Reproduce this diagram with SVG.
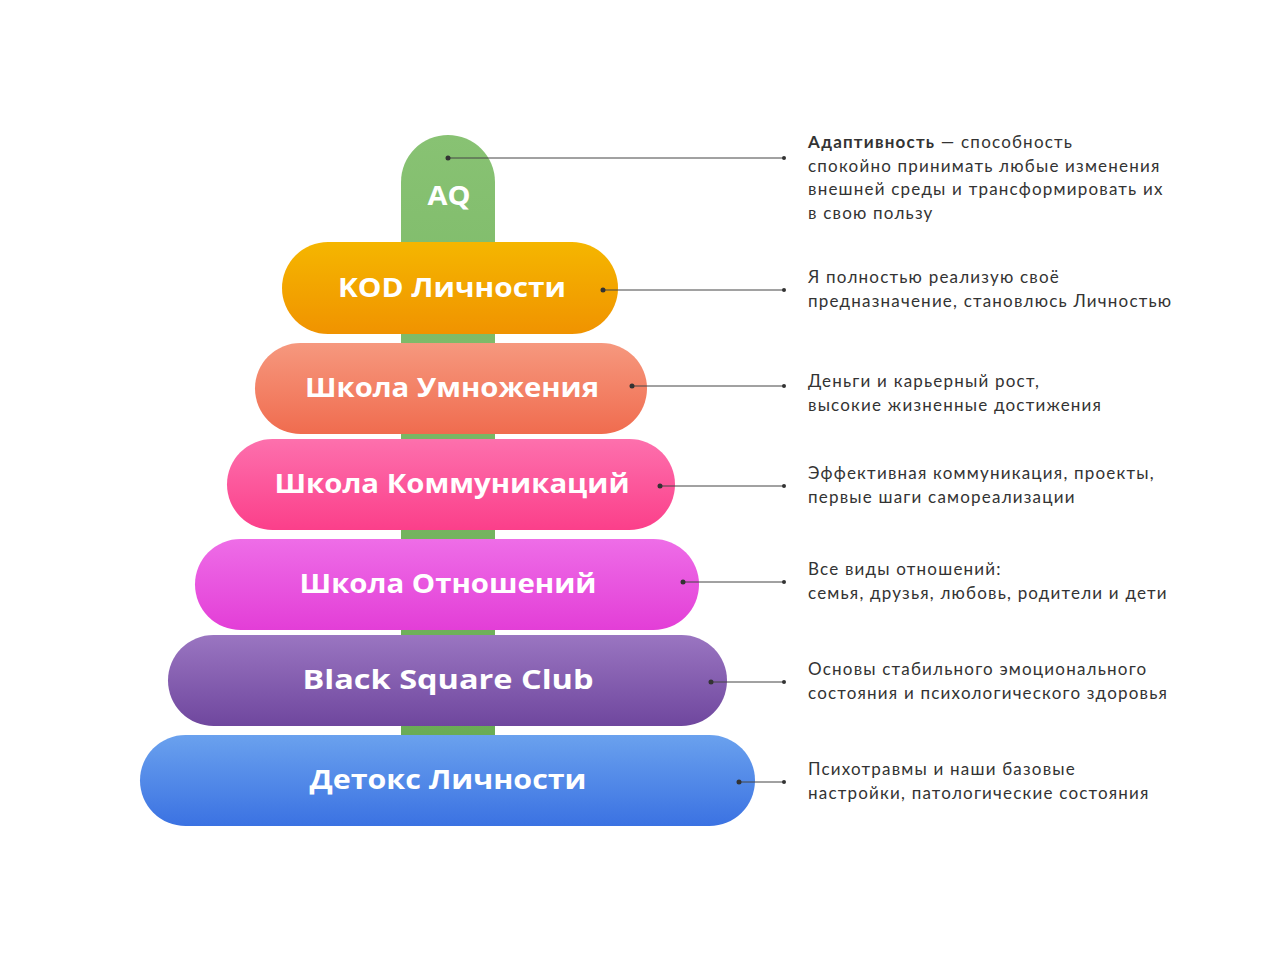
<svg xmlns="http://www.w3.org/2000/svg" width="1280" height="960" viewBox="0 0 1280 960">
  <defs>
    <linearGradient id="gGreen" x1="0" y1="0" x2="0" y2="1">
      <stop offset="0" stop-color="#88c273"/>
      <stop offset="1" stop-color="#6aac55"/>
    </linearGradient>
    <linearGradient id="gOrange" x1="0" y1="0" x2="0" y2="1">
      <stop offset="0" stop-color="#f5b600"/>
      <stop offset="1" stop-color="#f09300"/>
    </linearGradient>
    <linearGradient id="gSalmon" x1="0" y1="0" x2="0" y2="1">
      <stop offset="0" stop-color="#f6987e"/>
      <stop offset="1" stop-color="#f06c4f"/>
    </linearGradient>
    <linearGradient id="gPink" x1="0" y1="0" x2="0" y2="1">
      <stop offset="0" stop-color="#fd70ad"/>
      <stop offset="1" stop-color="#fb3f8a"/>
    </linearGradient>
    <linearGradient id="gMagenta" x1="0" y1="0" x2="0" y2="1">
      <stop offset="0" stop-color="#ee6de7"/>
      <stop offset="1" stop-color="#e33ed7"/>
    </linearGradient>
    <linearGradient id="gPurple" x1="0" y1="0" x2="0" y2="1">
      <stop offset="0" stop-color="#9a75c1"/>
      <stop offset="1" stop-color="#6f479e"/>
    </linearGradient>
    <linearGradient id="gBlue" x1="0" y1="0" x2="0" y2="1">
      <stop offset="0" stop-color="#6aa1ee"/>
      <stop offset="1" stop-color="#3b72e2"/>
    </linearGradient>
  </defs>
  <style>
    .lbl { font-family: "Open Sans", "Noto Sans", sans-serif; font-weight: 700; font-size: 27px; fill: #ffffff; text-anchor: middle; }
    .desc { font-family: Lato, "Noto Sans", sans-serif; font-size: 17px; letter-spacing: 1.2px; fill: #333333; }
    .desc .b { font-weight: 700; }
    .conn line { stroke: #444444; stroke-width: 1; }
    .conn circle { fill: #333333; }
  </style>
  <rect width="1280" height="960" fill="#ffffff"/>

  <g id="node-aq">
    <path d="M401,182 A47,47 0 0 1 495,182 L495,735 L401,735 Z" fill="url(#gGreen)"/>
    <text class="lbl" x="449" y="205" textLength="43" lengthAdjust="spacingAndGlyphs">AQ</text>
  </g>
  <g id="node-kod">
    <rect x="282" y="242" width="336" height="92" rx="46" fill="url(#gOrange)"/>
    <text class="lbl" x="452" y="297" textLength="228" lengthAdjust="spacingAndGlyphs">KOD Личности</text>
  </g>
  <g id="node-mult">
    <rect x="255" y="343" width="392" height="91" rx="45.5" fill="url(#gSalmon)"/>
    <text class="lbl" x="452" y="397" textLength="294" lengthAdjust="spacingAndGlyphs">Школа Умножения</text>
  </g>
  <g id="node-comm">
    <rect x="227" y="439" width="448" height="91" rx="45.5" fill="url(#gPink)"/>
    <text class="lbl" x="452" y="493" textLength="355" lengthAdjust="spacingAndGlyphs">Школа Коммуникаций</text>
  </g>
  <g id="node-rel">
    <rect x="195" y="539" width="504" height="91" rx="45.5" fill="url(#gMagenta)"/>
    <text class="lbl" x="448" y="593" textLength="297" lengthAdjust="spacingAndGlyphs">Школа Отношений</text>
  </g>
  <g id="node-bsc">
    <rect x="168" y="635" width="559" height="91" rx="45.5" fill="url(#gPurple)"/>
    <text class="lbl" x="448" y="689" textLength="291" lengthAdjust="spacingAndGlyphs">Black Square Club</text>
  </g>
  <g id="node-detox">
    <rect x="140" y="735" width="615" height="91" rx="45.5" fill="url(#gBlue)"/>
    <text class="lbl" x="448" y="789" textLength="277" lengthAdjust="spacingAndGlyphs">Детокс Личности</text>
  </g>

  <g id="connectors" class="conn">
    <line x1="448" y1="158" x2="784" y2="158"/><circle cx="448" cy="158" r="2.5"/><circle cx="784" cy="158" r="2"/>
    <line x1="603" y1="290" x2="784" y2="290"/><circle cx="603" cy="290" r="2.5"/><circle cx="784" cy="290" r="2"/>
    <line x1="632" y1="386" x2="784" y2="386"/><circle cx="632" cy="386" r="2.5"/><circle cx="784" cy="386" r="2"/>
    <line x1="660" y1="486" x2="784" y2="486"/><circle cx="660" cy="486" r="2.5"/><circle cx="784" cy="486" r="2"/>
    <line x1="683" y1="582" x2="784" y2="582"/><circle cx="683" cy="582" r="2.5"/><circle cx="784" cy="582" r="2"/>
    <line x1="711" y1="682" x2="784" y2="682"/><circle cx="711" cy="682" r="2.5"/><circle cx="784" cy="682" r="2"/>
    <line x1="739" y1="782" x2="784" y2="782"/><circle cx="739" cy="782" r="2.5"/><circle cx="784" cy="782" r="2"/>
  </g>

  <g id="descriptions">
    <text class="desc" x="808" y="148"><tspan class="b">Адаптивность</tspan> — способность</text>
    <text class="desc" x="808" y="171.5">спокойно принимать любые изменения</text>
    <text class="desc" x="808" y="195">внешней среды и трансформировать их</text>
    <text class="desc" x="808" y="218.5">в свою пользу</text>

    <text class="desc" x="808" y="283">Я полностью реализую своё</text>
    <text class="desc" x="808" y="307">предназначение, становлюсь Личностью</text>

    <text class="desc" x="808" y="387">Деньги и карьерный рост,</text>
    <text class="desc" x="808" y="411">высокие жизненные достижения</text>

    <text class="desc" x="808" y="479">Эффективная коммуникация, проекты,</text>
    <text class="desc" x="808" y="503">первые шаги самореализации</text>

    <text class="desc" x="808" y="575">Все виды отношений:</text>
    <text class="desc" x="808" y="599">семья, друзья, любовь, родители и дети</text>

    <text class="desc" x="808" y="675">Основы стабильного эмоционального</text>
    <text class="desc" x="808" y="699">состояния и психологического здоровья</text>

    <text class="desc" x="808" y="775">Психотравмы и наши базовые</text>
    <text class="desc" x="808" y="799">настройки, патологические состояния</text>
  </g>
</svg>
